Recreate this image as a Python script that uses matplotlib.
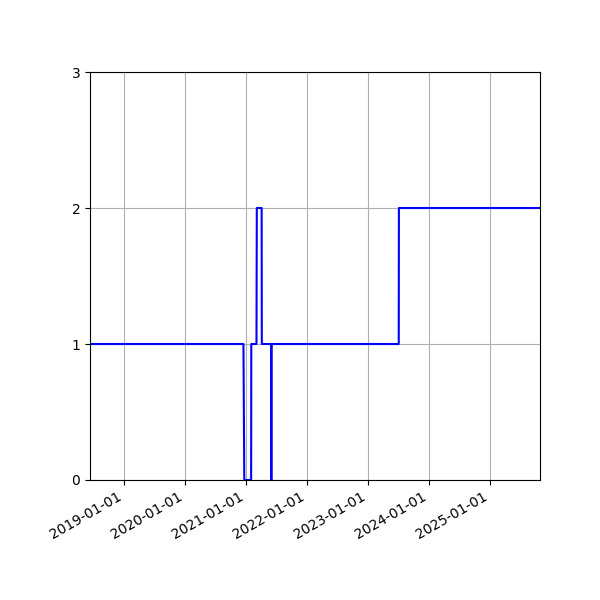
import matplotlib
matplotlib.use("Agg")
import matplotlib.pyplot as plt
import matplotlib.dates as mdates
import pandas as pd

dates = ["2018-06-11", "2020-12-16", "2020-12-21", "2021-01-31", "2021-02-01",
         "2021-03-04", "2021-03-06", "2021-04-04", "2021-04-05", "2021-05-31",
         "2021-06-01", "2021-06-02", "2023-07-04", "2023-07-05", "2025-10-27"]
values = [1, 1, 0, 0, 1, 1, 2, 2, 1, 1, 0, 1, 1, 2, 2]

x = pd.to_datetime(dates)

fig, ax = plt.subplots(figsize=(6, 6), dpi=100)
ax.plot(x, values, color="blue", linewidth=1.5)
ax.set_xlim(x[0], x[-1])
ax.set_ylim(0, 3)
ax.set_yticks([0, 1, 2, 3])
ax.xaxis.set_major_locator(mdates.YearLocator())
ax.xaxis.set_major_formatter(mdates.DateFormatter("%Y-%m-%d"))
ax.grid(True)
fig.autofmt_xdate()
fig.subplots_adjust(left=0.15, right=0.9, top=0.88, bottom=0.2)
fig.savefig("out.png")
